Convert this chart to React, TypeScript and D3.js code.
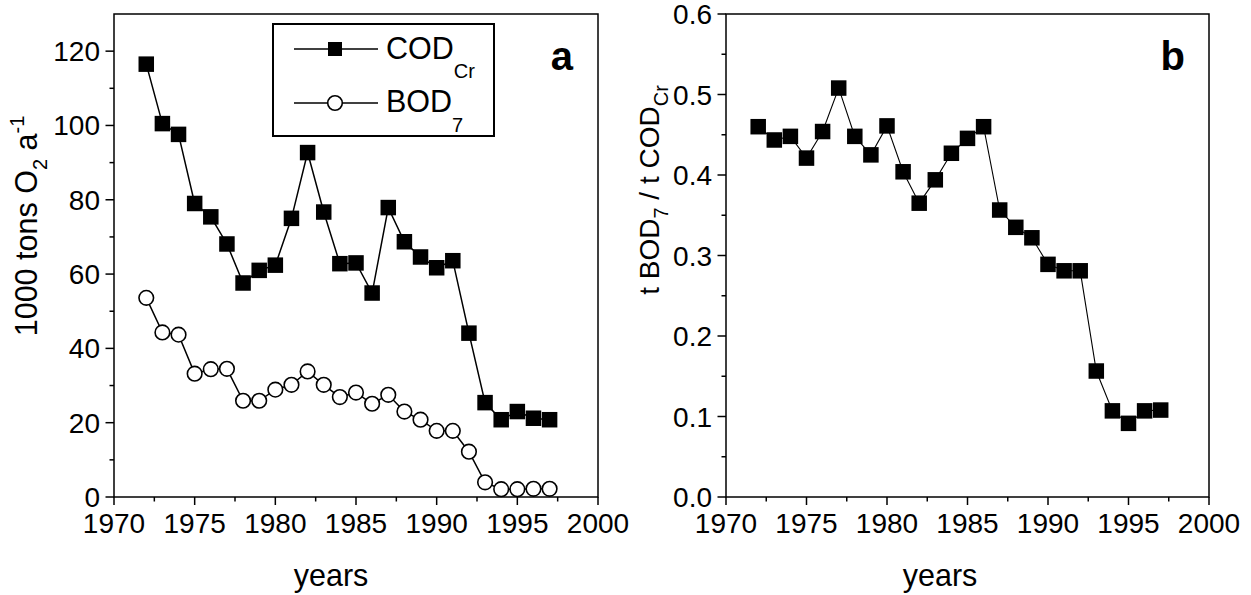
import React from "react";
import * as d3 from "d3";

const years = d3.range(1972, 1998);
const codValues = [116.5, 100.5, 97.6, 79, 75.4, 68.1, 57.6, 61, 62.4, 75, 92.7, 76.7, 62.8, 63, 54.9, 77.9, 68.7, 64.6, 61.7, 63.6, 44.1, 25.4, 20.8, 23, 21.2, 20.8];
const bodValues = [53.6, 44.3, 43.7, 33.2, 34.4, 34.5, 25.9, 25.9, 28.9, 30.2, 33.8, 30.2, 26.9, 28.1, 25.1, 27.5, 23, 20.8, 17.8, 17.8, 12.2, 3.95, 2.1, 2.1, 2.2, 2.2];
const ratioValues = [0.46, 0.4435, 0.448, 0.421, 0.454, 0.508, 0.448, 0.425, 0.461, 0.404, 0.365, 0.394, 0.427, 0.4455, 0.46, 0.3565, 0.335, 0.322, 0.289, 0.281, 0.281, 0.1565, 0.107, 0.0915, 0.107, 0.108];
const xTicks = [1970, 1975, 1980, 1985, 1990, 1995, 2000];
const xMinor = [1972.5, 1977.5, 1982.5, 1987.5, 1992.5, 1997.5];
const yTicksA = [0, 20, 40, 60, 80, 100, 120];
const yMinorA = [10, 30, 50, 70, 90, 110];
const yTicksB = [0, 0.1, 0.2, 0.3, 0.4, 0.5, 0.6];
const yMinorB = [0.05, 0.15, 0.25, 0.35, 0.45, 0.55];

const FONT = "'Liberation Sans', Arial, Helvetica, sans-serif";
const FS = 28;
const TITLE = 30.5;
const SUB = 20;

function Frame({ x, y, left, right, top, bottom, yTicks, yMinor, yFmt }) {
  return (
    <g>
      <rect x={left} y={top} width={right - left} height={bottom - top} fill="none" stroke="#000" strokeWidth={1.5} />
      {xTicks.map((t) => (
        <g key={"xt" + t}>
          <line x1={x(t)} x2={x(t)} y1={bottom} y2={bottom + 8} stroke="#000" strokeWidth={1.5} />
          <text x={x(t)} y={bottom + 36} textAnchor="middle" fontSize={FS} fontFamily={FONT}>{t}</text>
        </g>
      ))}
      {xMinor.map((t) => (
        <line key={"xm" + t} x1={x(t)} x2={x(t)} y1={bottom} y2={bottom + 4.5} stroke="#000" strokeWidth={1.5} />
      ))}
      {yTicks.map((t) => (
        <g key={"yt" + t}>
          <line x1={left - 8.5} x2={left} y1={y(t)} y2={y(t)} stroke="#000" strokeWidth={1.5} />
          <text x={left - 14} y={y(t) + 10} textAnchor="end" fontSize={FS} fontFamily={FONT}>{yFmt(t)}</text>
        </g>
      ))}
      {yMinor.map((t) => (
        <line key={"ym" + t} x1={left - 4.5} x2={left} y1={y(t)} y2={y(t)} stroke="#000" strokeWidth={1.5} />
      ))}
    </g>
  );
}

export default function App() {
  const top = 14;
  const bottom = 497;
  const aL = 114, aR = 598;
  const bL = 726, bR = 1209;
  const xa = d3.scaleLinear().domain([1970, 2000]).range([aL, aR]);
  const xb = d3.scaleLinear().domain([1970, 2000]).range([bL, bR]);
  const ya = d3.scaleLinear().domain([0, 130]).range([bottom, top]);
  const yb = d3.scaleLinear().domain([0, 0.6]).range([bottom, top]);

  const lineCod = d3.line<number>().x((d, i) => xa(years[i])).y((d) => ya(d));
  const lineBod = d3.line<number>().x((d, i) => xa(years[i])).y((d) => ya(d));
  const lineRatio = d3.line<number>().x((d, i) => xb(years[i])).y((d) => yb(d));
  const sq = 15.5;

  return (
    <svg width={1251} height={595} style={{ position: "absolute", left: 0, top: 0, background: "#fff" }}>
      <rect x={0} y={0} width={1251} height={595} fill="#fff" />
      {/* Panel a */}
      <Frame x={xa} y={ya} left={aL} right={aR} top={top} bottom={bottom} yTicks={yTicksA} yMinor={yMinorA} yFmt={(t) => String(t)} />
      <path d={lineCod(codValues) || ""} fill="none" stroke="#000" strokeWidth={1.5} />
      <path d={lineBod(bodValues) || ""} fill="none" stroke="#000" strokeWidth={1.5} />
      {codValues.map((v, i) => (
        <rect key={"c" + i} x={xa(years[i]) - sq / 2} y={ya(v) - sq / 2} width={sq} height={sq} fill="#000" />
      ))}
      {bodValues.map((v, i) => (
        <circle key={"b" + i} cx={xa(years[i])} cy={ya(v)} r={7.3} fill="#fff" stroke="#000" strokeWidth={1.6} />
      ))}
      {/* legend */}
      <rect x={273} y={24} width={221} height={112} fill="#fff" stroke="#000" strokeWidth={2} />
      <line x1={294} x2={378} y1={49} y2={49} stroke="#000" strokeWidth={1.5} />
      <rect x={335 - 7} y={49 - 7} width={14} height={14} fill="#000" />
      <line x1={294} x2={378} y1={103} y2={103} stroke="#000" strokeWidth={1.5} />
      <circle cx={335} cy={103} r={7.3} fill="#fff" stroke="#000" strokeWidth={1.6} />
      <text x={386} y={59} fontSize={TITLE} fontFamily={FONT}>
        COD<tspan dy={19} fontSize={SUB}>Cr</tspan>
      </text>
      <text x={386} y={112} fontSize={TITLE} fontFamily={FONT}>
        BOD<tspan dy={20} fontSize={SUB}>7</tspan>
      </text>
      <text x={573} y={70} textAnchor="end" fontSize={40} fontWeight="bold" fontFamily={FONT}>a</text>
      <text transform={`translate(37,226) rotate(-90)`} textAnchor="middle" fontSize={TITLE} fontFamily={FONT}>
        1000 tons O<tspan dy={10} fontSize={SUB}>2</tspan><tspan dy={-10}> a</tspan><tspan dy={-13} fontSize={SUB}>-1</tspan>
      </text>
      <text x={331} y={586} textAnchor="middle" fontSize={TITLE} fontFamily={FONT}>years</text>

      {/* Panel b */}
      <Frame x={xb} y={yb} left={bL} right={bR} top={top} bottom={bottom} yTicks={yTicksB} yMinor={yMinorB} yFmt={(t) => d3.format(".1f")(t)} />
      <path d={lineRatio(ratioValues) || ""} fill="none" stroke="#000" strokeWidth={1.1} />
      {ratioValues.map((v, i) => (
        <rect key={"r" + i} x={xb(years[i]) - sq / 2} y={yb(v) - sq / 2} width={sq} height={sq} fill="#000" />
      ))}
      <text x={1185} y={70} textAnchor="end" fontSize={40} fontWeight="bold" fontFamily={FONT}>b</text>
      <text transform={`translate(659,190) rotate(-90)`} textAnchor="middle" fontSize={FS} fontFamily={FONT}>
        t BOD<tspan dy={9} fontSize={SUB}>7</tspan><tspan dy={-9}> / t COD</tspan><tspan dy={9} fontSize={SUB}>Cr</tspan>
      </text>
      <text x={940} y={586} textAnchor="middle" fontSize={TITLE} fontFamily={FONT}>years</text>
    </svg>
  );
}
